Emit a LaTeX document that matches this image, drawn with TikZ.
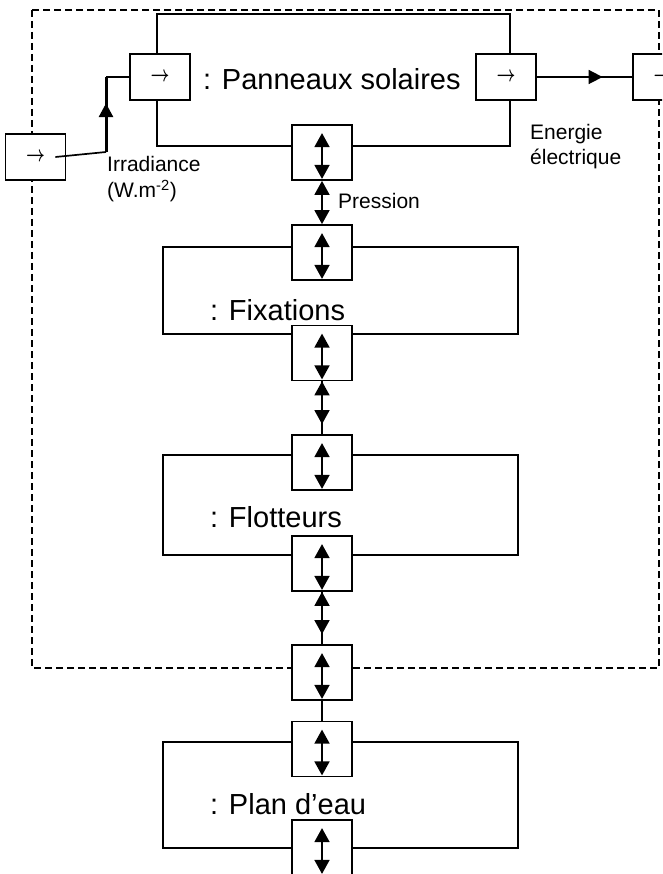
\documentclass[tikz,border=0pt]{standalone}
\usepackage{fontspec}
\setmainfont{Liberation Sans}
\usetikzlibrary{arrows.meta,decorations.markings}
\newcommand{\portarrow}{\scalebox{0.95}[1.3]{\boldmath$\rightarrow$}}
\tikzset{
  blk/.style={draw, line width=1.8pt, rectangle, inner sep=0pt},
  port/.style={draw, fill=white, line width=1.8pt, inner sep=0pt, minimum width=60pt, minimum height=55pt},
  hport/.style={port, minimum height=46pt, font=\fontsize{18}{22}\selectfont},
  conn/.style={line width=1.7pt},
  dbl/.style={line width=1.7pt, {Triangle[length=14pt,width=15pt]}-{Triangle[length=14pt,width=15pt]}},
  big/.style={font=\fontsize{29}{34}\selectfont, anchor=base west, inner sep=0pt},
  small/.style={font=\fontsize{21}{26}\selectfont, anchor=base west, inner sep=0pt},
  midarrow/.style={postaction={decorate}, decoration={markings, mark=at position #1 with {\arrow{Triangle[length=14pt,width=14pt]}}}}
}
\begin{document}
\begin{tikzpicture}[x=1pt,y=-1pt]
\useasboundingbox (0,0) rectangle (662,874);
\clip (0,0) rectangle (662,874);
% system boundary
\draw[line width=1.5pt, dash pattern=on 7pt off 4pt] (32,10) rectangle (659,668);
% blocks
\node[blk, minimum width=353pt, minimum height=132pt] (pan) at (333.5,80) {};
\node[blk, minimum width=355pt, minimum height=87pt] (fix) at (340.5,290.5) {};
\node[blk, minimum width=355pt, minimum height=100pt] (flo) at (340.5,505) {};
\node[blk, minimum width=355pt, minimum height=106pt] (pla) at (340.5,795) {};
% ports
\node[hport] (ext) at (35.5,157) {\portarrow};
\node[hport] (panIn) at (160,77) {\portarrow};
\node[hport] (panOut) at (506,77) {\portarrow};
\node[hport] (extR) at (663,77) {\portarrow};
\node[port] (panP) at (322,152.5) {};
\node[port] (fixT) at (322,252.5) {};
\node[port] (fixB) at (322,353) {};
\node[port] (floT) at (322,462.5) {};
\node[port] (floB) at (322,563.5) {};
\node[port] (ifc) at (322,672.5) {};
\node[port] (plaT) at (322,749) {};
\node[port] (plaB) at (322,847.5) {};
\foreach \p in {panP,fixT,fixB,floT,floB,ifc,plaT,plaB}
  \draw[dbl] ([yshift=-9pt]\p.north) -- ([yshift=2pt]\p.south);
% connectors
\coordinate (c1) at (106,152);
\coordinate (c2) at (106,77);
\draw[conn] ([xshift=-11pt]ext.east) -- (c1);
\draw[line width=3pt, midarrow=0.65] (c1) -- (c2);
\draw[conn] (c2) -- (panIn.west);
\draw[conn, midarrow=0.69] (panOut.east) -- (extR.west);
\draw[dbl] (panP.south) -- (fixT.north);
\draw[conn] (fixB.south) -- (floT.north);
\draw[dbl, shorten >=10pt] (fixB.south) -- (floT.north);
\draw[conn] (floB.south) -- (ifc.north);
\draw[dbl, shorten >=10pt] (floB.south) -- (ifc.north);
\draw[conn] (ifc.south) -- (plaT.north);
% labels
\node[big] (lpan) at (203,90) {: Panneaux solaires};
\node[big] (lfix) at (210,320) {: Fixations};
\node[big] (lflo) at (210,527) {: Flotteurs};
\node[big] (lpla) at (210,814) {: Plan d’eau};
\node[small] (li1) at (107,172) {Irradiance};
\node[small] (li2) at (107,198) {(W.m\textsuperscript{-2})};
\node[small] (le1) at (530,140) {Energie};
\node[small] (le2) at (530,165) {électrique};
\node[small] (lp) at (338,209) {Pression};
\end{tikzpicture}
\end{document}
